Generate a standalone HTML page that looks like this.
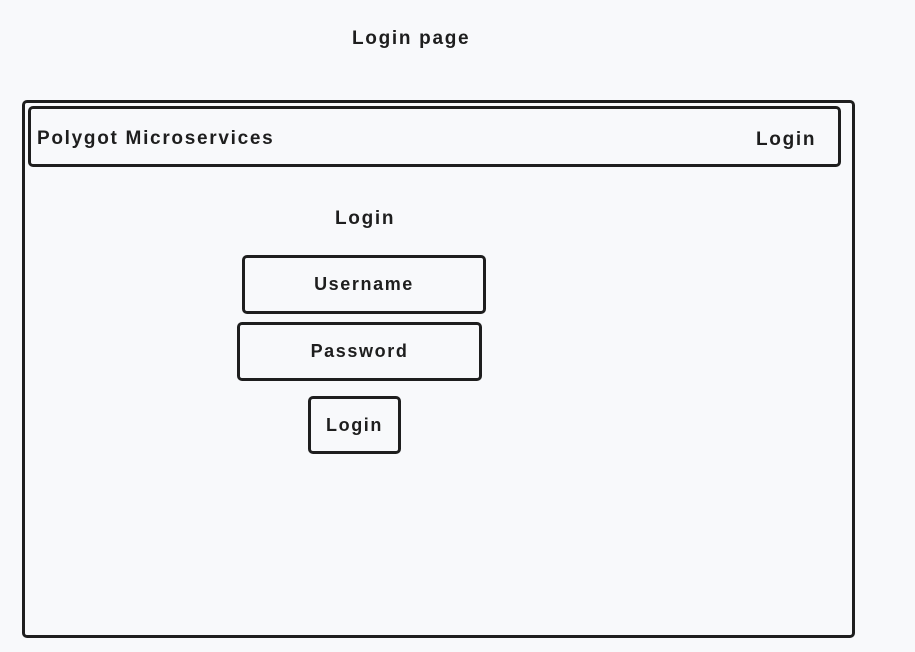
<!DOCTYPE html>
<html><head><meta charset="utf-8"><style>
html,body{margin:0;padding:0;background:#f8f9fb;}
body{width:915px;height:652px;position:relative;overflow:hidden;font-family:"Liberation Sans",sans-serif;color:#1e1e1e;}
.b{position:absolute;border:3px solid #1e1e1e;border-radius:5px;box-sizing:border-box;}
.t{position:absolute;font-size:19px;font-weight:bold;white-space:nowrap;letter-spacing:1.7px;}
.c{display:flex;align-items:center;justify-content:center;}
.c span{font-size:18px;font-weight:bold;letter-spacing:1.6px;}
</style></head><body>
<div class="t" style="left:352px;top:28px;">Login page</div>
<div class="b" style="left:22px;top:100px;width:833px;height:538px;"></div>
<div class="b" style="left:28px;top:106px;width:813px;height:61px;"></div>
<div class="t" style="left:37px;top:128px;">Polygot Microservices</div>
<div class="t" style="left:756px;top:129px;">Login</div>
<div class="t" style="left:335px;top:208px;">Login</div>
<div class="b c" style="left:242px;top:255px;width:244px;height:59px;"><span>Username</span></div>
<div class="b c" style="left:237px;top:322px;width:245px;height:59px;"><span>Password</span></div>
<div class="b c" style="left:308px;top:396px;width:93px;height:58px;"><span>Login</span></div>
</body></html>
